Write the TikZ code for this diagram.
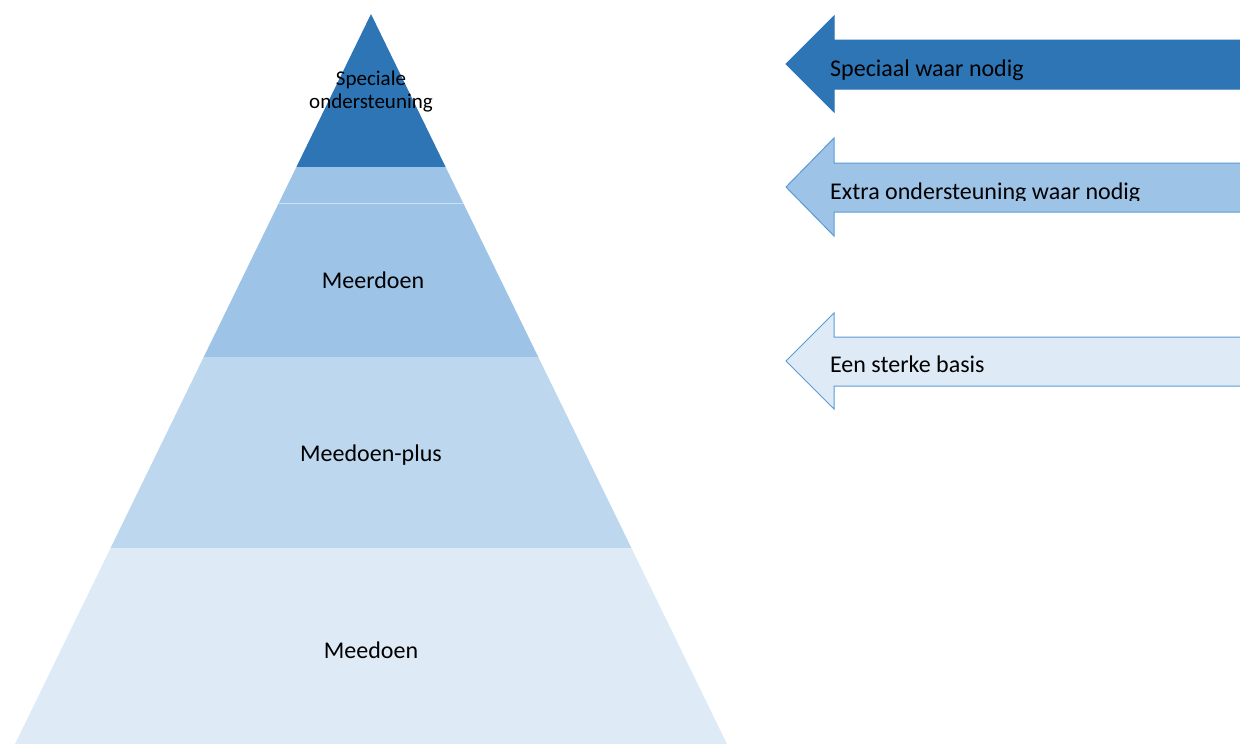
\documentclass[tikz,border=0pt]{standalone}
\usepackage{fontspec}
\setmainfont{Carlito}
\definecolor{donker}{HTML}{2E75B6}
\definecolor{midden}{HTML}{9DC3E6}
\definecolor{licht}{HTML}{BDD7EE}
\definecolor{bleek}{HTML}{DEEBF7}
\definecolor{rand}{HTML}{5B9BD5}
\begin{document}
\begin{tikzpicture}  % ------ Piramide van ondersteuning --------
      [x=1pt,y=-1pt,
       tekst/.style={font=\fontsize{24}{29}\selectfont,inner sep=0pt},
       pijl/.style={draw=rand,line width=1pt,line join=miter}]
\useasboundingbox (0,0) rectangle (1240,744);
    \coordinate (Top) at (371,14);
    \coordinate (BL) at (15,744);
    \coordinate (BR) at (727,744);
\begin{scope}
    \clip (Top) -- (BR) -- (BL) -- cycle;
    \fill[donker] (0,0) rectangle (760,167);
    \fill[midden] (0,167) rectangle (760,357);
    \fill[licht] (0,357) rectangle (760,548);
    \fill[bleek] (0,548) rectangle (760,744);
    \draw[white,opacity=.5,line width=.8pt] (0,203) -- (760,203);
\end{scope}
    \node[inner sep=0pt,anchor=base,align=center,font=\fontsize{21}{23}\selectfont]
         (special) at (371,108) {Speciale\\ondersteuning};
    \node[tekst,anchor=base] (meerdoen) at (373,288) {Meerdoen};
    \node[tekst,anchor=base] (plus) at (371,461) {Meedoen-plus};
    \node[tekst,anchor=base] (meedoen) at (371,658) {Meedoen};
    % pijlen rechts
    \draw[pijl,fill=donker,draw=donker] (1242,40) -- (834,40) -- (834,16) -- (786,64)
         -- (834,112) -- (834,89) -- (1242,89);
    \draw[pijl,fill=midden] (1242,163) -- (834,163) -- (834,138) -- (786,187)
         -- (834,236) -- (834,212) -- (1242,212);
    \draw[pijl,fill=bleek] (1242,337) -- (834,337) -- (834,313) -- (786,361)
         -- (834,409) -- (834,386) -- (1242,386);
    \node[tekst,anchor=base west] (speciaal) at (830,76) {Speciaal waar nodig};
\begin{scope}
    \clip (800,140) rectangle (1240,200);
    \node[tekst,anchor=base west] (extra) at (830,199) {Extra ondersteuning waar nodig};
\end{scope}
    \node[tekst,anchor=base west] (basis) at (830,372) {Een sterke basis};
\end{tikzpicture}
\end{document}
